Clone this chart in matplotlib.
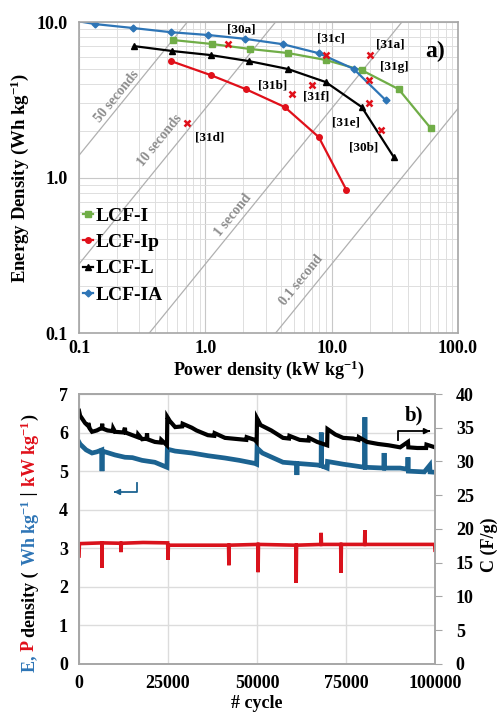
import matplotlib
matplotlib.use("Agg")
import matplotlib.pyplot as plt
from matplotlib.ticker import FixedLocator, NullFormatter, LogLocator

plt.rcParams["font.family"] = ["Liberation Serif", "DejaVu Serif"]
plt.rcParams["font.weight"] = "bold"
plt.rcParams["axes.labelweight"] = "bold"
plt.rcParams["mathtext.fontset"] = "custom"
plt.rcParams["mathtext.rm"] = "Liberation Serif:bold"
plt.rcParams["mathtext.bf"] = "Liberation Serif:bold"
plt.rcParams["mathtext.it"] = "Liberation Serif:italic:bold"
plt.rcParams["mathtext.default"] = "rm"

# ------------------------------- RAGONE DATA ------------------------------- #

lcf_i_p = [0.553, 1.13, 2.25, 4.49, 8.97, 17.3, 33.9, 60.7]
lcf_i_e = [7.66, 7.22, 6.71, 6.32, 5.7, 4.9, 3.7, 2.08]

lcf_ip_p = [0.533, 1.1, 2.09, 4.25, 7.9, 13.1]
lcf_ip_e = [5.61, 4.56, 3.7, 2.84, 1.82, 0.83]

lcf_l_p = [0.272, 0.545, 1.1, 2.2, 4.49, 8.97, 17.3, 30.9]
lcf_l_e = [7.0, 6.51, 6.13, 5.61, 4.99, 4.11, 2.84, 1.36]

lcf_ia_p = [0.1, 0.134, 0.267, 0.533, 1.05, 2.05, 4.1, 7.9, 14.9, 26.7]
lcf_ia_e = [10.1, 9.7, 9.15, 8.6, 8.25, 7.8, 7.2, 6.3, 5.0, 3.15]

ref_names = ["[30a]", "[31c]", "[31a]", "[31g]", "[31b]", "[31f]", "[31e]", "[30b]", "[31d]"]
ref_p = [1.5, 8.97, 20.0, 19.6, 4.83, 6.95, 19.6, 24.8, 0.71]
ref_e = [7.22, 6.13, 6.13, 4.24, 3.44, 3.94, 3.01, 2.02, 2.24]

time_seconds = [50, 10, 1, 0.1]
time_labels = ["50 seconds", "10 seconds", "1 second", "0.1 second"]

# ------------------------------ CYCLING DATA ------------------------------- #

cap_cycles = [0, 300, 1700, 2500, 2600, 3000, 3650, 5000, 6460, 6500, 6540, 8000, 9500, 9600,
              10100, 12500, 12900, 13000, 15000, 16500, 16600, 17700, 19000, 19100, 19200,
              21300, 23000, 23100, 24700, 24800, 25500, 27000, 29000, 29100, 31700, 33000,
              36200, 38000, 38100, 41000, 45000, 47000, 47100, 49400, 49900, 50000,
              51000, 54000, 57300, 59000, 59100, 62000, 64500, 64600, 66900, 69700, 69800,
              72000, 74200, 77000, 78500, 78600, 80900, 84000, 87000, 90200, 92400, 92500,
              95000, 97500, 97600, 100000]
cap_vals = [37.5, 36.8, 35.7, 35.3, 35.7, 34.9, 34.4, 34.6, 35.0, 35.6, 34.9, 34.6, 34.5, 34.9,
            34.4, 34.3, 35.0, 34.3, 33.9, 33.6, 34.0, 33.3, 33.4, 34.2, 33.3,
            32.9, 32.8, 33.2, 32.4, 36.6, 36.0, 35.1, 35.2, 35.6, 35.0, 34.6,
            33.9, 33.8, 34.2, 33.5, 33.3, 33.2, 33.6, 33.2, 32.9, 36.4,
            35.4, 34.6, 33.5, 33.4, 33.8, 33.2, 33.1, 33.5, 32.9, 32.4, 34.8,
            34.0, 33.5, 33.4, 33.2, 33.6, 32.9, 32.6, 32.4, 32.1, 32.9, 32.1,
            32.0, 32.0, 32.5, 32.1]

e_cycles = [0, 300, 2000, 3650, 5000, 6400, 6460, 6520, 8000, 10100, 12900, 15000,
            17700, 21300, 24700, 24800, 27000, 31700, 36200, 41000, 45000, 49400,
            49900, 50000, 51500, 57300, 61100, 61200, 61300, 66900, 68000, 68050,
            68100, 69700, 69800, 74200, 80200, 80300, 80400, 85600, 85700, 85800,
            90200, 92300, 92400, 92500, 97000, 98500, 98600, 100000]
e_vals = [5.75, 5.7, 5.55, 5.47, 5.5, 5.55, 5.0, 5.52, 5.48, 5.42, 5.36, 5.35,
          5.28, 5.23, 5.1, 5.57, 5.52, 5.47, 5.4, 5.34, 5.28, 5.2,
          5.18, 5.6, 5.47, 5.23, 5.2, 4.9, 5.2, 5.16, 5.14, 6.0,
          5.14, 5.08, 5.25, 5.18, 5.1, 6.4, 5.1, 5.08, 5.47, 5.08,
          5.08, 5.05, 5.36, 5.0, 4.98, 5.15, 4.98, 4.97]

p_cycles = [0, 100, 6400, 6460, 6520, 11700, 11800, 11900, 18000, 24900, 25000, 25100,
            42000, 42100, 42200, 50200, 50300, 50400, 60900, 61000, 61100, 67900,
            68000, 68100, 73500, 73600, 73700, 80200, 80300, 80400, 99900, 100000]
p_vals = [2.8, 3.12, 3.14, 2.49, 3.14, 3.13, 2.9, 3.13, 3.15, 3.14, 2.7, 3.08,
          3.08, 2.56, 3.08, 3.1, 2.38, 3.1, 3.08, 2.1, 3.08, 3.1,
          3.4, 3.1, 3.1, 2.36, 3.1, 3.1, 3.47, 3.1, 3.1, 2.95]

GREEN = "#70ad47"
RED = "#e0101a"
BLUE = "#2e75b6"
DARKBLUE = "#1c6391"
GREY = "#a6a6a6"

fig = plt.figure(figsize=(4.97, 7.24), dpi=100)

# ------------------------------- PANEL a) --------------------------------- #

ax = fig.add_axes([0.159, 0.540, 0.7625, 0.4296])
ax.set_xscale("log")
ax.set_yscale("log")
ax.set_xlim(0.1, 100)
ax.set_ylim(0.1, 10)

ax.grid(True, which="major", color="#c8c8c8", lw=0.8)
ax.grid(True, which="minor", color="#dedede", lw=0.7)
ax.set_axisbelow(True)

for t in time_seconds:
    pw = [0.01, 1000]
    ax.plot(pw, [p * t / 3.6 for p in pw], color="#b0b0b0", lw=0.9, zorder=1)

label_pos = [(0.2, 3.3), (0.437, 1.74), (1.65, 0.574), (5.8, 0.219)]
for (px, py), lab in zip(label_pos, time_labels):
    ax.text(px, py, lab, rotation=51, color="#8c8c8c", fontsize=10,
            ha="center", va="center", rotation_mode="anchor")

ax.plot(lcf_i_p, lcf_i_e, color=GREEN, marker="s", ms=4.5, lw=1.6, label="LCF-I")
ax.plot(lcf_ip_p, lcf_ip_e, color=RED, marker="o", ms=4, lw=1.6, label="LCF-Ip")
ax.plot(lcf_l_p, lcf_l_e, color="black", marker="^", ms=4, lw=1.6, label="LCF-L")
ax.plot(lcf_ia_p, lcf_ia_e, color=BLUE, marker="D", ms=3.5, lw=1.6,
        markevery=list(range(1, len(lcf_ia_p))), label="LCF-IA")

ax.plot(ref_p, ref_e, ls="none", marker="x", color=RED, ms=4, mew=1.8)
ref_text_pos = [(1.91, 9.0), (9.8, 7.78), (29.2, 7.22), (31.5, 5.14), (3.42, 3.88),
                (7.6, 3.3), (12.9, 2.27), (17.9, 1.57), (1.09, 1.82)]
for name, (tx, ty) in zip(ref_names, ref_text_pos):
    ax.text(tx, ty, name, fontsize=9.5, ha="center", va="center")

ax.text(0.94, 0.905, "a)", transform=ax.transAxes, fontsize=17, ha="center", va="center")

ax.xaxis.set_major_locator(FixedLocator([0.1, 1, 10, 100]))
ax.set_xticklabels(["0.1", "1.0", "10.0", "100.0"])
ax.yaxis.set_major_locator(FixedLocator([0.1, 1, 10]))
ax.set_yticklabels(["0.1", "1.0", "10.0"])
ax.xaxis.set_minor_locator(LogLocator(subs=range(2, 10)))
ax.yaxis.set_minor_locator(LogLocator(subs=range(2, 10)))
ax.xaxis.set_minor_formatter(NullFormatter())
ax.yaxis.set_minor_formatter(NullFormatter())
ax.tick_params(which="both", length=0, labelsize=13)
ax.tick_params(axis="x", pad=5)
ax.tick_params(axis="y", pad=8)
for s in ax.spines.values():
    s.set_color(GREY)
    s.set_linewidth(1.2)

ax.set_xlabel("Power density (kW kg$^{-1}$)", fontsize=13, labelpad=1)
ax.set_ylabel("Energy Density (Wh kg$^{-1}$)", fontsize=13.5, labelpad=4)

leg = ax.legend(loc="upper left", bbox_to_anchor=(-0.01, 0.43), frameon=False, fontsize=14,
                handlelength=0.5, handletextpad=0.15, labelspacing=0.45, borderaxespad=0)

# ------------------------------- PANEL b) --------------------------------- #

bx = fig.add_axes([0.159, 0.0829, 0.7163, 0.3729])
bx.set_xlim(0, 100000)
bx.set_ylim(0, 7)
bx.set_xticks([0, 25000, 50000, 75000, 100000])
bx.set_yticks(range(0, 8))
bx.grid(True, color="#dcdcdc", lw=1.0)
bx.set_axisbelow(True)
bx.tick_params(length=0, labelsize=13, pad=8)
for s in bx.spines.values():
    s.set_color(GREY)
    s.set_linewidth(1.2)

cx = bx.twinx()
cx.set_ylim(0, 40)
cx.set_yticks(range(0, 41, 5))
cx.tick_params(axis="y", length=5, color=GREY, labelsize=13, pad=10)
for s in cx.spines.values():
    s.set_color(GREY)
    s.set_linewidth(1.2)

bx.plot(p_cycles, p_vals, color="#d9121c", lw=2.6, solid_joinstyle="miter")
bx.plot(e_cycles, e_vals, color=DARKBLUE, lw=3.4, solid_joinstyle="miter")
cx.plot(cap_cycles, cap_vals, color="black", lw=3.0, solid_joinstyle="miter")

# axis indicator arrows
bx.plot([16300, 16300, 10500], [4.69, 4.46, 4.46], color=DARKBLUE, lw=1.3)
bx.annotate("", xy=(9000, 4.46), xytext=(11000, 4.46),
            arrowprops=dict(arrowstyle="-|>", color=DARKBLUE, lw=1.3, mutation_scale=8))
cx.plot([89600, 89600, 98000], [33.2, 34.5, 34.5], color="black", lw=1.3)
cx.annotate("", xy=(99400, 34.5), xytext=(97500, 34.5),
            arrowprops=dict(arrowstyle="-|>", color="black", lw=1.3, mutation_scale=8))

bx.text(0.94, 0.92, "b)", transform=bx.transAxes, fontsize=15, ha="center", va="center")
bx.set_xlabel("# cycle", fontsize=13, labelpad=2)
fig.text(0.984, (724 - 545) / 724, "C (F/g)", rotation=90, fontsize=13, ha="center", va="center")

# multi-coloured left label, built bottom to top
pieces = [("E, ", BLUE), ("P ", RED), ("density ( ", "black"), ("Wh kg$^{-1}$", BLUE),
          (" | ", "black"), ("kW kg$^{-1}$", RED), (")", "black")]
prev = bx.text(-0.138, -0.03, pieces[0][0], transform=bx.transAxes, rotation=90,
               color=pieces[0][1], fontsize=13, ha="center", va="bottom")
for txt, col in pieces[1:]:
    prev = bx.annotate(txt, xy=(0.5, 1.0), xycoords=prev, rotation=90, color=col,
                       fontsize=13, ha="center", va="bottom")

fig.savefig("out.png", dpi=100)
